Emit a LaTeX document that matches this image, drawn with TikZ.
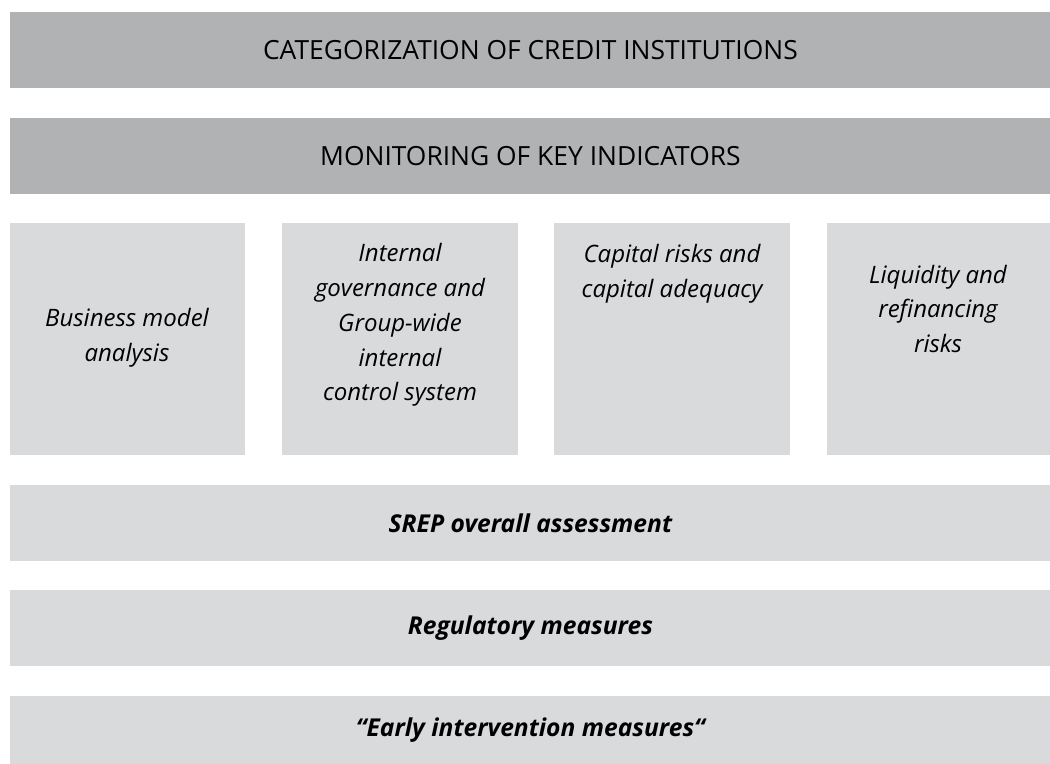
\documentclass[tikz,border=0pt]{standalone}
\usepackage{fontspec}
\setmainfont{Open Sans}
\usepackage{tikz}
\usetikzlibrary{positioning,calc}
\definecolor{darkbar}{HTML}{B1B2B4}
\definecolor{lightbar}{HTML}{D9DADC}

\begin{document}
\begin{tikzpicture}[x=0.5pt,y=-0.5pt,
  bar/.style={anchor=north west,inner sep=0pt,minimum width=520pt,minimum height=38pt},
  hdr/.style={bar,fill=darkbar,font=\fontsize{13.2}{15}\selectfont},
  lowbar/.style={bar,fill=lightbar,font=\fontsize{12.3}{14}\selectfont\bfseries\itshape},
  pillar/.style={anchor=north west,inner sep=0pt,fill=lightbar,minimum height=116pt},
  ptext/.style={align=center,inner sep=0pt,font=\fontsize{12}{17.4}\selectfont\itshape}]
\useasboundingbox (0,0) rectangle (1050,764);

\node[hdr] (cat) at (10,12) {CATEGORIZATION OF CREDIT INSTITUTIONS};
\node[hdr] (mon) at (10,118) {MONITORING OF KEY INDICATORS};

\node[pillar,minimum width=117.5pt] (p1) at (10,223) {};
\node[pillar,minimum width=118pt] (p2) at (282,223) {};
\node[pillar,minimum width=118pt] (p3) at (554,223) {};
\node[pillar,minimum width=111.5pt] (p4) at (827,223) {};

\node[ptext] (t1) at (127,338) {Business model\\analysis};
\node[ptext] (t2) at (400,325) {Internal\\governance and\\Group-wide\\internal\\control system};
\node[ptext] (t3) at (672,274) {Capital risks and\\capital adequacy};
\node[ptext] (t4) at (938,309) {Liquidity and\\refinancing\\risks};

\node[lowbar] (srep) at (10,485) {SREP overall assessment};
\node[lowbar] (reg) at (10,590) {Regulatory measures};
\node[lowbar,minimum height=34pt] (early) at (10,696) {``Early intervention measures``};

\end{tikzpicture}
\end{document}
